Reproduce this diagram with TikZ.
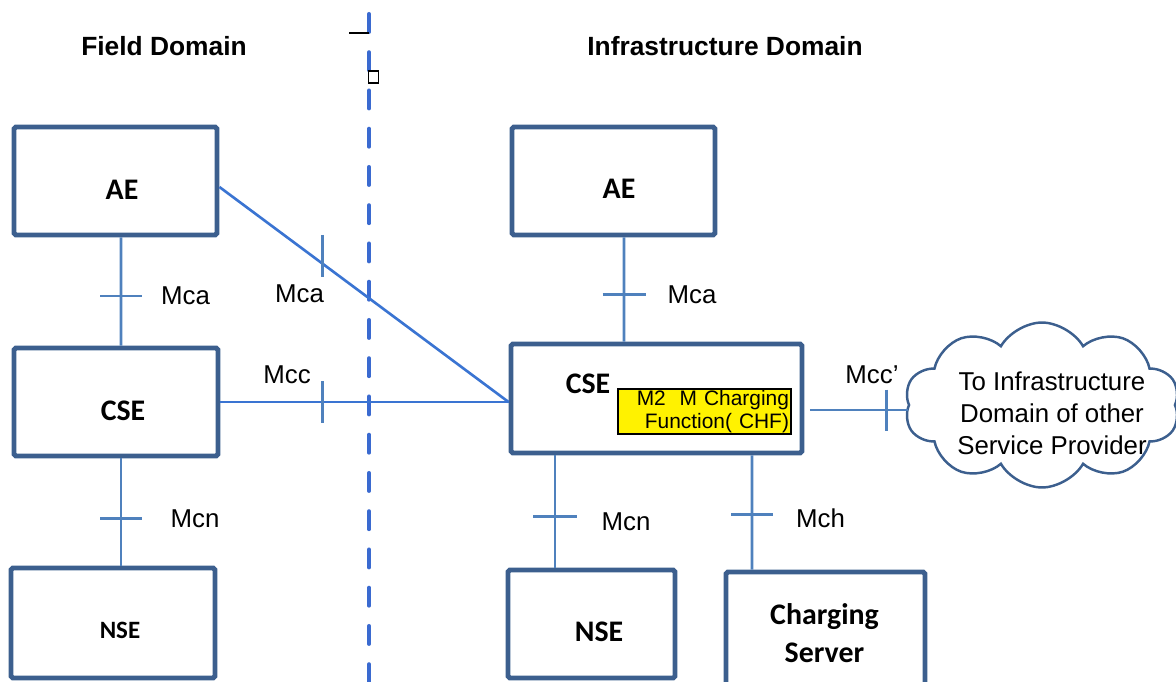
\documentclass[tikz,border=0pt]{standalone}
\usepackage{fontspec}
\setmainfont{Liberation Sans}
\newfontfamily\boxfont{Carlito}
\usetikzlibrary{shapes.symbols,calc}
\definecolor{boxblue}{HTML}{3C5F8E}
\definecolor{linkblue}{HTML}{4F81BD}
\definecolor{diagblue}{HTML}{3A74D2}
\definecolor{dashblue}{HTML}{3A6AD0}
\tikzset{
  entity/.style={draw=boxblue, line width=2.8pt, rounded corners=1pt,
    minimum width=4.06cm, minimum height=2.16cm, inner sep=0pt},
  boxlabel/.style={font=\boxfont\bfseries\fontsize{17}{22}\selectfont, inner sep=0pt},
  connline/.style={draw=linkblue, line width=1.5pt},
  diagline/.style={draw=diagblue, line width=1.5pt},
  tickmark/.style={draw=linkblue, line width=1.5pt},
  iflabel/.style={font=\fontsize{14.7}{17}\selectfont, inner sep=0pt},
  domaintitle/.style={font=\bfseries\fontsize{15}{18}\selectfont, inner sep=0pt},
  dashline/.style={draw=dashblue, line width=2.3pt, dash pattern=on 10.2pt off 11.57pt, line cap=round},
  markline/.style={draw=black, line width=0.9pt}
}
\begin{document}
\begin{tikzpicture}[x=0.02cm,y=-0.02cm]
\useasboundingbox (0,0) rectangle (1176,682);
\clip (0,0) rectangle (1176,682);

% titles
\node[domaintitle] (tfield) at (164,46) {Field Domain};
\node[domaintitle] (tinfra) at (725,46) {Infrastructure Domain};

% domain separator
\coordinate (dtop) at (369,14);
\coordinate (dbot) at (369,700);
\draw[dashline] (dtop) -- (dbot);
\coordinate (mka) at (349,33);
\coordinate (mkb) at (369,33);
\draw[markline] (mka) -- (mkb);
\draw[markline, line width=0.75pt] (368.5,71) rectangle (378.5,83);

% boxes
\node[entity] (fae) at (115.5,181) {};
\node[entity, minimum width=4.08cm] (fcse) at (116,402) {};
\node[entity, minimum width=4.08cm, minimum height=2.2cm] (fnse) at (113,623) {};
\node[entity] (iae) at (613.5,181) {};
\node[entity, minimum width=5.82cm, minimum height=2.18cm] (icse) at (656.5,398.5) {};
\node[entity, minimum width=3.34cm] (inse) at (591.5,624) {};
\node[entity, minimum width=3.98cm, minimum height=2.96cm] (chs) at (825.5,646) {};

% box labels
\node[boxlabel] (faet) at (122,190) {AE};
\node[boxlabel] (fcset) at (123,411) {CSE};
\node[boxlabel, font=\boxfont\bfseries\fontsize{14.2}{17}\selectfont] (fnset) at (120,630) {NSE};
\node[boxlabel] (iaet) at (619,189) {AE};
\node[boxlabel] (icset) at (588,384) {CSE};
\node[boxlabel] (inset) at (599,631.5) {NSE};
\node[boxlabel, align=center] (chst) at (824.5,633) {Charging\\Server};

% charging function
\node[draw=black, line width=0.8pt, fill=yellow, minimum width=3.46cm, minimum height=0.9cm,
      text width=3.38cm, inner xsep=0.04cm, inner ysep=0pt, align=right,
      font=\fontsize{11.9}{13}\selectfont] (chf) at (704.5,411.5)
      {M2\ \ M Charging\\Function( CHF)};

% cloud
\node[cloud, draw=boxblue, line width=1.4pt, cloud puffs=10, cloud puff arc=120,
      cloud ignores aspect, minimum width=5.5cm, minimum height=3.3cm] (cloud) at (1042,405) {};
\node[iflabel, align=center, font=\fontsize{14.7}{18.1}\selectfont] (cloudt) at (1052,413)
      {To Infrastructure\\Domain of other\\Service Provider};

% connectors with reference point ticks
\draw[connline] ($(fae.south)+(5.5,0)$) -- ($(fcse.north)+(5,0)$) coordinate[pos=0.54] (k1);
\draw[tickmark] ($(k1)+(-21,0)$) -- ($(k1)+(21,0)$);
\node[iflabel] (l1) at (185.5,296) {Mca};

\draw[connline] ($(fcse.south)+(5,0)$) -- ($(fnse.north)+(8,0)$) coordinate[pos=0.5625] (k2);
\draw[tickmark] ($(k2)+(-21,0)$) -- ($(k2)+(21,0)$);
\node[iflabel] (l2) at (195,519) {Mcn};

\draw[diagline] ($(fae.east)+(0,6)$) -- ($(icse.west)+(0,3.5)$) coordinate[pos=0.357] (k3);
\draw[tickmark] ($(k3)+(0,-29)$) -- ($(k3)+(0,13)$);
\node[iflabel] (l3) at (299.5,294) {Mca};

\draw[diagline] (fcse.east) -- (fcse.east -| icse.west) coordinate[pos=0.355] (k4);
\draw[tickmark] ($(k4)+(0,-21)$) -- ($(k4)+(0,21)$);
\node[iflabel] (l4) at (287,374.5) {Mcc};

\draw[connline] ($(iae.south)+(10.5,0)$) -- ($(icse.north)+(-32.5,0)$) coordinate[pos=0.55] (k5);
\draw[tickmark] ($(k5)+(-21.5,0)$) -- ($(k5)+(21.5,0)$);
\node[iflabel] (l5) at (692,295) {Mca};

\draw[connline] ($(icse.south)+(-101.5,0)$) -- ($(inse.north)+(-36.5,0)$) coordinate[pos=0.547] (k6);
\draw[tickmark] ($(k6)+(-22,0)$) -- ($(k6)+(22,0)$);
\node[iflabel] (l6) at (626,522) {Mcn};

\draw[connline] ($(icse.south)+(95.5,0)$) -- ($(chs.north)+(-73.5,0)$) coordinate[pos=0.52] (k7);
\draw[tickmark] ($(k7)+(-21,0)$) -- ($(k7)+(21,0)$);
\node[iflabel] (l7) at (820.5,518) {Mch};

\coordinate (cstart) at ($(icse.east)+(5.5,11.5)$);
\draw[connline] (cstart) -- (cstart -| cloud.west) coordinate[pos=0.78] (k8);
\draw[tickmark] ($(k8)+(0,-20.5)$) -- ($(k8)+(0,20.5)$);
\node[iflabel] (l8) at (872,374.5) {Mcc’};
\end{tikzpicture}
\end{document}
